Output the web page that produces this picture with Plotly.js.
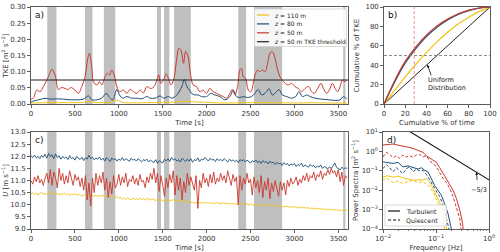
<!DOCTYPE html>
<html>
<head>
<meta charset="utf-8">
<script src="https://cdn.plot.ly/plotly-3.0.1.min.js"></script>
<style>
  html, body { margin: 0; padding: 0; background: #fff; }
  #chart { width: 500px; height: 252px; }
</style>
</head>
<body>
<div id="chart"></div>
<script>
// ---------- colours ----------
const C110 = '#f2c20f';
const C80 = '#1d4f76';
const C50 = '#c9382c';

// ---------- turbulent periods (shaded) [s] ----------
const turbStart = [185, 615, 830, 1435, 1515, 1630, 2360, 2540, 3555];
const turbEnd   = [290, 700, 960, 1480, 1575, 1820, 2450, 2860, 3580];

// ---------- a) TKE time series ----------
const tkeThreshold = 0.074;

const tTke50 = [0, 27, 65, 103, 141, 171, 198, 236, 274, 312, 350, 388, 426, 453, 502, 540, 578, 616, 643, 665,
  692, 711, 749, 779, 806, 844, 871, 894, 920, 947, 977, 1007, 1053, 1091, 1129, 1167, 1205, 1243, 1281, 1319,
  1364, 1402, 1433, 1455, 1478, 1508, 1539, 1566, 1592, 1623, 1653, 1684, 1707, 1737, 1760, 1783, 1806, 1821, 1847, 1885,
  1923, 1961, 1999, 2037, 2075, 2113, 2151, 2189, 2227, 2265, 2292, 2322, 2353, 2379, 2398, 2417, 2444, 2474, 2505, 2531,
  2558, 2581, 2607, 2634, 2665, 2695, 2721, 2748, 2779, 2809, 2836, 2862, 2893, 2931, 2968, 3006, 3044, 3082, 3121, 3159,
  3196, 3227, 3265, 3303, 3330, 3368, 3406, 3432, 3463, 3493, 3520, 3546, 3569, 3596];
const tke50 = [0.015, 0.018, 0.043, 0.038, 0.054, 0.069, 0.084, 0.107, 0.090, 0.045, 0.051, 0.048, 0.045, 0.051, 0.043, 0.033, 0.054, 0.084, 0.136, 0.157,
  0.115, 0.069, 0.059, 0.069, 0.059, 0.084, 0.095, 0.090, 0.105, 0.090, 0.054, 0.038, 0.043, 0.033, 0.045, 0.038, 0.033, 0.043, 0.035, 0.054,
  0.048, 0.054, 0.074, 0.090, 0.064, 0.074, 0.093, 0.079, 0.059, 0.074, 0.126, 0.172, 0.167, 0.126, 0.162, 0.152, 0.115, 0.084, 0.059, 0.054,
  0.038, 0.043, 0.033, 0.048, 0.038, 0.033, 0.028, 0.023, 0.018, 0.033, 0.045, 0.028, 0.054, 0.105, 0.110, 0.084, 0.079, 0.043, 0.038, 0.064,
  0.095, 0.105, 0.100, 0.105, 0.100, 0.126, 0.157, 0.162, 0.141, 0.105, 0.084, 0.074, 0.064, 0.059, 0.064, 0.054, 0.048, 0.038, 0.048, 0.054,
  0.038, 0.033, 0.048, 0.064, 0.048, 0.033, 0.048, 0.064, 0.048, 0.038, 0.054, 0.074, 0.069, 0.074];

const tTke80 = [0, 27, 103, 160, 217, 293, 369, 445, 521, 597, 654, 692, 749, 806, 856, 894, 932, 977, 1007, 1045,
  1091, 1148, 1205, 1262, 1319, 1357, 1414, 1471, 1508, 1566, 1604, 1661, 1718, 1745, 1775, 1806, 1828, 1866, 1904, 1942,
  1999, 2048, 2094, 2151, 2208, 2265, 2303, 2341, 2379, 2417, 2467, 2512, 2550, 2588, 2626, 2683, 2710, 2748, 2786, 2824,
  2862, 2912, 2968, 3014, 3052, 3090, 3140, 3178, 3235, 3311, 3387, 3463, 3520, 3558, 3596];
const tke80 = [0.006, 0.009, 0.014, 0.018, 0.015, 0.016, 0.015, 0.013, 0.013, 0.015, 0.025, 0.013, 0.013, 0.018, 0.033, 0.020, 0.013, 0.045, 0.028, 0.018,
  0.023, 0.018, 0.018, 0.016, 0.023, 0.018, 0.018, 0.025, 0.018, 0.023, 0.018, 0.028, 0.054, 0.076, 0.054, 0.043, 0.033, 0.028, 0.028, 0.023,
  0.023, 0.033, 0.028, 0.023, 0.013, 0.023, 0.043, 0.023, 0.020, 0.023, 0.020, 0.023, 0.033, 0.045, 0.028, 0.038, 0.048, 0.028, 0.035, 0.045,
  0.028, 0.023, 0.018, 0.023, 0.038, 0.023, 0.028, 0.023, 0.018, 0.015, 0.013, 0.011, 0.013, 0.023, 0.015];

const tTke110 = [0, 200, 400, 600, 660, 720, 900, 975, 1050, 1300, 1500, 1650, 1750, 1800, 1900, 2000, 2200, 2400, 2600, 2800, 3000, 3200, 3400, 3600];
const tke110 = [0.003, 0.004, 0.004, 0.005, 0.008, 0.005, 0.005, 0.012, 0.005, 0.004, 0.005, 0.006, 0.009, 0.008, 0.006, 0.005, 0.003, 0.004, 0.004, 0.004, 0.003, 0.004, 0.003, 0.003];

// ---------- b) cumulative distributions [%] ----------
const cumTime = [0, 10, 20, 30, 40, 50, 60, 70, 80, 90, 100];
const cum50   = [0, 24, 44, 59, 71, 80.5, 87.5, 93, 96.8, 99, 100];
const cum80   = [0, 22.5, 42, 57, 69.5, 79, 86.5, 92.3, 96.3, 98.8, 100];
const cum110  = [0, 14, 28, 41, 53, 64, 74, 82.5, 89.5, 95.5, 100];
const cumUniform = [0, 10, 20, 30, 40, 50, 60, 70, 80, 90, 100];
const timeAtHalf = 28.5;
const halfTke = 50;

// ---------- c) wind speed, 20 s samples from t = 0 ----------
const uStep = 20;
const u80 = [
  12.02, 11.95, 12.05, 11.93, 12.00, 11.90, 12.04, 11.96, 12.08, 11.92,
  12.12, 11.98, 12.06, 11.90, 12.10, 11.95, 12.02, 11.88, 11.99, 11.92,
  11.97, 11.86, 12.03, 11.90, 11.95, 11.84, 12.00, 11.91, 11.87, 11.96,
  11.82, 11.94, 11.88, 12.04, 11.90, 11.96, 11.85, 11.93, 11.88, 11.97,
  11.84, 11.92, 11.80, 11.95, 11.87, 11.78, 11.93, 11.85, 11.90, 11.80,
  11.88, 11.83, 11.94, 11.82, 11.90, 11.86, 11.79, 11.92, 11.84, 11.88,
  11.80, 11.90, 11.85, 11.77, 11.86, 11.82, 11.88, 11.76, 11.84, 11.80,
  11.74, 11.86, 11.70, 11.82, 11.78, 11.72, 11.88, 11.80, 11.90, 11.78,
  11.95, 11.84, 11.90, 11.80, 11.86, 11.76, 11.92, 11.83, 11.78, 11.88,
  11.80, 11.90, 11.75, 11.86, 11.82, 11.93, 11.78, 11.88, 11.84, 11.95,
  11.86, 11.80, 11.92, 11.84, 11.88, 11.78, 11.90, 11.82, 11.87, 11.80,
  11.90, 11.83, 11.76, 11.88, 11.80, 11.85, 11.78, 11.84, 11.74, 11.86,
  11.80, 11.86, 11.76, 11.84, 11.79, 11.72, 11.82, 11.76, 11.85, 11.74,
  11.80, 11.70, 11.82, 11.75, 11.78, 11.68, 11.80, 11.72, 11.76, 11.66,
  11.75, 11.68, 11.72, 11.62, 11.74, 11.66, 11.70, 11.60, 11.68, 11.64,
  11.70, 11.58, 11.66, 11.62, 11.72, 11.56, 11.64, 11.60, 11.55, 11.66,
  11.58, 11.62, 11.52, 11.60, 11.55, 11.64, 11.50, 11.58, 11.54, 11.48,
  11.56, 11.50, 11.60, 11.72, 11.54, 11.50, 11.44, 11.55, 11.48, 11.52,
  11.50];
const u50 = [
  11.00, 10.85, 11.15, 10.95, 11.20, 10.90, 11.05, 10.80, 11.10, 11.30,
  10.90, 11.45, 10.80, 11.35, 11.10, 10.70, 11.50, 11.00, 11.30, 10.85,
  11.20, 10.90, 11.40, 11.05, 10.80, 11.25, 11.00, 11.15, 10.75, 11.10,
  10.60, 11.20, 10.20, 10.90, 9.95, 11.10, 10.50, 11.30, 10.80, 11.20,
  10.90, 11.35, 10.60, 11.10, 10.30, 10.95, 10.45, 11.20, 10.70, 10.85,
  11.25, 10.80, 11.15, 10.90, 11.30, 10.75, 11.05, 10.95, 11.20, 10.85,
  11.10, 10.80, 11.25, 10.95, 11.00, 10.70, 11.15, 10.90, 11.30, 11.05,
  11.50, 10.90, 11.30, 10.55, 11.20, 10.80, 10.35, 11.10, 10.70, 11.25,
  10.90, 11.40, 10.40, 11.20, 10.60, 11.10, 10.20, 10.95, 10.50, 11.30,
  10.80, 11.15, 10.90, 10.60, 11.20, 9.85, 11.00, 10.70, 11.30, 10.90,
  11.10, 10.75, 11.25, 10.90, 11.35, 10.85, 11.10, 10.95, 11.30, 11.00,
  11.20, 10.90, 11.40, 11.05, 10.80, 11.25, 10.95, 11.15, 10.00, 11.20,
  10.60, 11.10, 10.85, 11.30, 10.90, 11.05, 10.40, 11.15, 10.70, 11.00,
  10.50, 11.20, 10.30, 10.95, 10.60, 11.10, 10.25, 10.90, 10.55, 11.00,
  10.70, 10.35, 10.95, 10.60, 10.90, 10.40, 11.00, 10.75, 11.10, 10.85,
  10.95, 11.15, 10.80, 11.05, 10.90, 11.20, 11.00, 11.30, 10.95, 11.20,
  11.10, 11.35, 11.00, 11.25, 11.15, 11.40, 11.05, 11.30, 11.20, 11.45,
  11.25, 11.50, 11.30, 11.40, 11.15, 11.45, 10.95, 11.35, 10.80, 11.20,
  11.10];
const u110 = [
  10.45, 10.50, 10.42, 10.48, 10.40, 10.46, 10.52, 10.44, 10.47, 10.41,
  10.50, 10.55, 10.44, 10.49, 10.42, 10.47, 10.40, 10.45, 10.43, 10.48,
  10.42, 10.46, 10.39, 10.44, 10.41, 10.47, 10.38, 10.43, 10.40, 10.36,
  10.42, 10.37, 10.40, 10.34, 10.41, 10.38, 10.35, 10.40, 10.33, 10.38,
  10.36, 10.40, 10.32, 10.37, 10.35, 10.30, 10.38, 10.33, 10.28, 10.34,
  10.27, 10.30, 10.24, 10.28, 10.22, 10.27, 10.25, 10.20, 10.26, 10.23,
  10.25, 10.21, 10.27, 10.22, 10.24, 10.19, 10.26, 10.22, 10.20, 10.24,
  10.20, 10.17, 10.23, 10.18, 10.21, 10.15, 10.20, 10.17, 10.22, 10.16,
  10.18, 10.21, 10.15, 10.19, 10.13, 10.17, 10.20, 10.12, 10.16, 10.10,
  10.14, 10.08, 10.12, 10.06, 10.10, 10.04, 10.09, 10.07, 10.11, 10.05,
  10.09, 10.06, 10.10, 10.04, 10.08, 10.05, 10.10, 10.03, 10.07, 10.05,
  10.08, 10.04, 10.07, 10.02, 10.06, 10.03, 10.05, 10.00, 10.04, 10.06,
  10.02, 10.05, 10.00, 10.04, 9.99, 10.03, 10.00, 9.97, 10.02, 9.98,
  10.01, 9.96, 10.00, 9.97, 10.02, 9.95, 9.99, 9.96, 10.00, 9.94,
  9.97, 9.93, 9.96, 9.90, 9.94, 9.91, 9.95, 9.89, 9.93, 9.90,
  9.92, 9.88, 9.91, 9.86, 9.90, 9.87, 9.89, 9.85, 9.88, 9.84,
  9.87, 9.83, 9.86, 9.82, 9.85, 9.81, 9.84, 9.80, 9.83, 9.79,
  9.82, 9.78, 9.81, 9.77, 9.80, 9.76, 9.79, 9.75, 9.78, 9.76,
  9.77];
const uTime = u50.map((_, i) => i * uStep);

// ---------- d) power spectra ----------
const f50T = [0.01, 0.0124, 0.0155, 0.0192, 0.0238, 0.0296, 0.0368, 0.0426, 0.0493, 0.0569, 0.0658, 0.0761, 0.088, 0.1018, 0.1177, 0.1361, 0.157, 0.182, 0.21, 0.243, 0.281, 0.314, 0.33];
const p50T = [2.14, 2.3, 2.4, 2.1, 1.95, 1.66, 1.43, 1.22, 1.04, 0.89, 0.6, 0.47, 0.37, 0.27, 0.144, 0.073, 0.04, 0.022, 0.01, 0.0037, 0.00093, 0.00023, 0.00007];
const f50Q = [0.01, 0.0116, 0.0134, 0.0155, 0.0179, 0.0206, 0.0238, 0.0276, 0.0319, 0.0368, 0.0426, 0.0493, 0.0569, 0.0658, 0.0761, 0.088, 0.1018, 0.1177, 0.1361, 0.157, 0.182, 0.21, 0.243, 0.281, 0.30];
const p50Q = [0.52, 0.89, 0.69, 0.47, 0.6, 0.44, 0.65, 0.51, 0.6, 0.49, 0.65, 0.69, 0.52, 0.6, 0.32, 0.24, 0.16, 0.073, 0.04, 0.025, 0.012, 0.0046, 0.0014, 0.00034, 0.00007];
const f80T = [0.01, 0.0124, 0.0155, 0.0192, 0.0238, 0.0296, 0.0368, 0.0458, 0.053, 0.061, 0.0706, 0.0818, 0.0946, 0.109, 0.126, 0.146, 0.169, 0.189, 0.20];
const p80T = [0.29, 0.27, 0.24, 0.27, 0.16, 0.18, 0.144, 0.123, 0.144, 0.107, 0.089, 0.037, 0.017, 0.01, 0.0055, 0.002, 0.0006, 0.00015, 0.00007];
const f80Q = [0.01, 0.0116, 0.0134, 0.0155, 0.0179, 0.0206, 0.0238, 0.0276, 0.0319, 0.0368, 0.0426, 0.0493, 0.0569, 0.0658, 0.0761, 0.088, 0.1018, 0.1177, 0.1361, 0.157, 0.176];
const p80Q = [0.13, 0.21, 0.144, 0.09, 0.144, 0.107, 0.072, 0.13, 0.16, 0.09, 0.123, 0.096, 0.107, 0.065, 0.033, 0.018, 0.01, 0.0046, 0.0017, 0.00042, 0.0001];
const f110T = [0.01, 0.0124, 0.0155, 0.0192, 0.0238, 0.0296, 0.0368, 0.0458, 0.0569, 0.0658, 0.0761, 0.088, 0.1018, 0.1177, 0.1361, 0.152, 0.164];
const p110T = [0.049, 0.055, 0.047, 0.053, 0.044, 0.037, 0.032, 0.035, 0.033, 0.04, 0.025, 0.012, 0.0055, 0.0023, 0.0008, 0.00023, 0.00007];
const f110Q = [0.01, 0.0116, 0.0134, 0.0155, 0.0192, 0.0238, 0.0296, 0.0368, 0.0458, 0.0569, 0.0658, 0.0761, 0.088, 0.1018, 0.1177, 0.1361, 0.147];
const p110Q = [0.033, 0.044, 0.033, 0.025, 0.03, 0.022, 0.027, 0.033, 0.025, 0.027, 0.021, 0.015, 0.0081, 0.0037, 0.0014, 0.00034, 0.00007];
// Kolmogorov -5/3 reference
const refF = [0.03, 1.0];
const refP = [11.7, 0.034];
const refArrowF = 0.58, refTextF = 0.6;
const refArrowP = 0.085, refTextP = 0.028;

// ---------- layout helpers (pixel -> paper) ----------
const W = 500, H = 252;
const px = x => x / W;
const py = y => 1 - y / H;

const FONT = 'DejaVu Sans, sans-serif';
const INK = '#333333';

function axisStyle(extra) {
  return Object.assign({
    showline: true, mirror: true, linecolor: INK, linewidth: 0.8,
    ticks: 'outside', ticklen: 3, tickwidth: 0.8, tickcolor: INK,
    tickfont: { family: FONT, size: 7, color: INK },
    showgrid: false, zeroline: false, fixedrange: true
  }, extra);
}
function axTitle(text, standoff) {
  return { text: text, font: { family: FONT, size: 7, color: INK }, standoff: standoff };
}

const traces = [];
function line(x, y, xa, ya, color, width, dash, shape) {
  traces.push({
    type: 'scatter', mode: 'lines', x: x, y: y, xaxis: xa, yaxis: ya,
    line: { color: color, width: width, dash: dash || 'solid', shape: shape || 'linear' },
    showlegend: false, hoverinfo: 'skip'
  });
}

// a)
line(tTke110, tke110, 'x', 'y', C110, 1, 'solid', 'spline');
line(tTke80, tke80, 'x', 'y', C80, 1, 'solid', 'spline');
line(tTke50, tke50, 'x', 'y', C50, 1, 'solid', 'spline');

// b)
line(cumTime, cumUniform, 'x2', 'y2', '#222222', 1, 'solid');
line(cumTime, cum110, 'x2', 'y2', C110, 1.2, 'solid', 'spline');
line(cumTime, cum80, 'x2', 'y2', C80, 1.2, 'solid', 'spline');
line(cumTime, cum50, 'x2', 'y2', C50, 1.2, 'solid', 'spline');

// c)
line(uTime, u110, 'x3', 'y3', C110, 0.9);
line(uTime, u80, 'x3', 'y3', C80, 0.9);
line(uTime, u50, 'x3', 'y3', C50, 0.9);

// d)
line(f110Q, p110Q, 'x4', 'y4', C110, 1, '3px,2px');
line(f110T, p110T, 'x4', 'y4', C110, 1);
line(f80Q, p80Q, 'x4', 'y4', C80, 1, '3px,2px');
line(f80T, p80T, 'x4', 'y4', C80, 1);
line(f50Q, p50Q, 'x4', 'y4', C50, 1, '3px,2px');
line(f50T, p50T, 'x4', 'y4', C50, 1);
line(refF, refP, 'x4', 'y4', '#111111', 1.1);

// ---------- shapes ----------
const shapes = [];
turbStart.forEach((s, i) => {
  ['y', 'y3'].forEach((ya, k) => {
    shapes.push({
      type: 'rect', layer: 'below', xref: k ? 'x3' : 'x', yref: ya + ' domain',
      x0: s, x1: turbEnd[i], y0: 0, y1: 1,
      fillcolor: '#bfbfbf', line: { width: 0 }
    });
  });
});
shapes.push({ type: 'line', xref: 'x domain', yref: 'y', x0: 0, x1: 1, y0: tkeThreshold, y1: tkeThreshold,
  line: { color: '#222222', width: 1.1 } });
shapes.push({ type: 'line', xref: 'x2', yref: 'y2 domain', x0: timeAtHalf, x1: timeAtHalf, y0: 0, y1: 1,
  line: { color: '#ee8080', width: 0.9, dash: '3px,2px' } });
shapes.push({ type: 'line', xref: 'x2 domain', yref: 'y2', x0: 0, x1: 1, y0: halfTke, y1: halfTke,
  line: { color: '#808080', width: 0.9, dash: '3px,2px' } });

// legend boxes
shapes.push({ type: 'rect', xref: 'paper', yref: 'paper', x0: px(254.5), x1: px(346.5), y0: py(46.5), y1: py(9),
  fillcolor: 'rgba(255,255,255,0.85)', line: { color: '#d0d0d0', width: 0.8 } });
shapes.push({ type: 'rect', xref: 'paper', yref: 'paper', x0: px(385), x1: px(446.5), y0: py(226), y1: py(205),
  fillcolor: 'rgba(255,255,255,0.85)', line: { color: '#d0d0d0', width: 0.8 } });

const annotations = [];
function label(text, x, y, size, anchor) {
  annotations.push({ text: text, xref: 'paper', yref: 'paper', x: px(x), y: py(y),
    xanchor: anchor || 'left', yanchor: 'middle', showarrow: false,
    font: { family: FONT, size: size, color: '#111' } });
}

// legend a)
const legA = [
  ['<i>z</i> = 110 m', C110, 'solid'],
  ['<i>z</i> = 80 m', C80, 'solid'],
  ['<i>z</i> = 50 m', C50, 'solid'],
  ['<i>z</i> = 50 m TKE threshold', '#222222', 'solid']
];
legA.forEach((e, i) => {
  const yy = 15 + i * 8.9;
  shapes.push({ type: 'line', xref: 'paper', yref: 'paper', x0: px(257), x1: px(269), y0: py(yy), y1: py(yy),
    line: { color: e[1], width: 1.2 } });
  annotations.push({ text: e[0], xref: 'paper', yref: 'paper', x: px(272), y: py(yy),
    xanchor: 'left', yanchor: 'middle', showarrow: false,
    font: { family: FONT, size: 6, color: '#222' } });
});
// legend d)
const legD = [['Turbulent', 'solid'], ['Quiescent', '3px,2px']];
legD.forEach((e, i) => {
  const yy = 211 + i * 9;
  shapes.push({ type: 'line', xref: 'paper', yref: 'paper', x0: px(388), x1: px(400), y0: py(yy), y1: py(yy),
    line: { color: '#111', width: 1.2, dash: e[1] } });
  annotations.push({ text: e[0], xref: 'paper', yref: 'paper', x: px(404), y: py(yy),
    xanchor: 'left', yanchor: 'middle', showarrow: false,
    font: { family: FONT, size: 6.3, color: '#222' } });
});

// panel letters
label('a)', 33, 15, 9);
label('b)', 386, 15, 9);
label('c)', 33, 140, 9);
label('d)', 385, 140, 9);

// b) uniform distribution note: arrow from the note to the diagonal, then the note itself
annotations.push({
  text: '', xref: 'x2', yref: 'y2', x: 41, y: 40.5,
  ax: 45, ay: 28, axref: 'x2', ayref: 'y2',
  showarrow: true, arrowhead: 2, arrowsize: 0.7, arrowwidth: 0.8, arrowcolor: '#111'
});
annotations.push({
  text: 'Uniform<br>Distribution', xref: 'x2', yref: 'y2', x: 39.5, y: 21,
  xanchor: 'left', yanchor: 'middle', align: 'left', showarrow: false,
  font: { family: FONT, size: 6.5, color: '#222' }
});
// d) -5/3 note
annotations.push({
  text: '', xref: 'x4', yref: 'y4', x: Math.log10(refArrowF), y: Math.log10(refArrowP),
  ax: Math.log10(refTextF), ay: Math.log10(refTextP), axref: 'x4', ayref: 'y4',
  showarrow: true, arrowhead: 2, arrowsize: 0.7, arrowwidth: 0.8, arrowcolor: '#111'
});
annotations.push({
  text: '\u22125/3', xref: 'x4', yref: 'y4', x: Math.log10(0.66), y: Math.log10(0.02),
  xanchor: 'center', yanchor: 'top', showarrow: false,
  font: { family: FONT, size: 6.5, color: '#222' }
});

const timeTicks = [0, 500, 1000, 1500, 2000, 2500, 3000, 3500];
const specTicks = [1e-4, 1e-3, 1e-2, 1e-1, 1, 10];
const specText = ['10<sup>\u22124</sup>', '10<sup>\u22123</sup>', '10<sup>\u22122</sup>', '10<sup>\u22121</sup>', '10<sup>0</sup>', '10<sup>1</sup>'];

const layout = {
  width: W, height: H,
  margin: { l: 0, r: 0, t: 0, b: 0 },
  paper_bgcolor: '#fff', plot_bgcolor: '#fff',
  showlegend: false,
  font: { family: FONT, size: 7, color: INK },
  xaxis: axisStyle({ domain: [px(31), px(348)], range: [0, 3610], anchor: 'y', tickvals: timeTicks,
    title: axTitle('Time [s]', 2) }),
  yaxis: axisStyle({ domain: [py(104), py(7)], range: [0, 0.3], anchor: 'x', dtick: 0.05, tickformat: '.2f',
    title: axTitle('TKE [m<sup>2</sup> s<sup>\u22122</sup>]', 4) }),
  xaxis2: axisStyle({ domain: [px(384), px(490)], range: [0, 100], anchor: 'y2', dtick: 20,
    title: axTitle('Cumulative % of time', 2) }),
  yaxis2: axisStyle({ domain: [py(104), py(7)], range: [0, 100], anchor: 'x2', dtick: 20,
    title: axTitle('Cumulative % of TKE', 4) }),
  xaxis3: axisStyle({ domain: [px(31), px(348)], range: [0, 3610], anchor: 'y3', tickvals: timeTicks,
    title: axTitle('Time [s]', 2) }),
  yaxis3: axisStyle({ domain: [py(229), py(132)], range: [9, 13], anchor: 'x3', dtick: 0.5, tickformat: '.1f',
    title: axTitle('<i>U</i> [m s<sup>\u22121</sup>]', 4) }),
  xaxis4: axisStyle({ type: 'log', domain: [px(383), px(489)], range: [-2, 0], anchor: 'y4',
    tickvals: [0.01, 0.1, 1], ticktext: ['10<sup>\u22122</sup>', '10<sup>\u22121</sup>', '10<sup>0</sup>'],
    minor: { ticks: 'outside', ticklen: 1.5, tickwidth: 0.6, tickcolor: INK,
      tickvals: [0.02, 0.03, 0.04, 0.05, 0.06, 0.07, 0.08, 0.09, 0.2, 0.3, 0.4, 0.5, 0.6, 0.7, 0.8, 0.9] },
    title: axTitle('Frequency [Hz]', 2) }),
  yaxis4: axisStyle({ type: 'log', domain: [py(229), py(132)], range: [-4, 1], anchor: 'x4',
    tickvals: specTicks, ticktext: specText,
    title: axTitle('Power Spectra [m<sup>2</sup> s<sup>\u22121</sup>]', 2) }),
  shapes: shapes,
  annotations: annotations
};

Plotly.newPlot('chart', traces, layout, { staticPlot: true, displayModeBar: false });
</script>
</body>
</html>
